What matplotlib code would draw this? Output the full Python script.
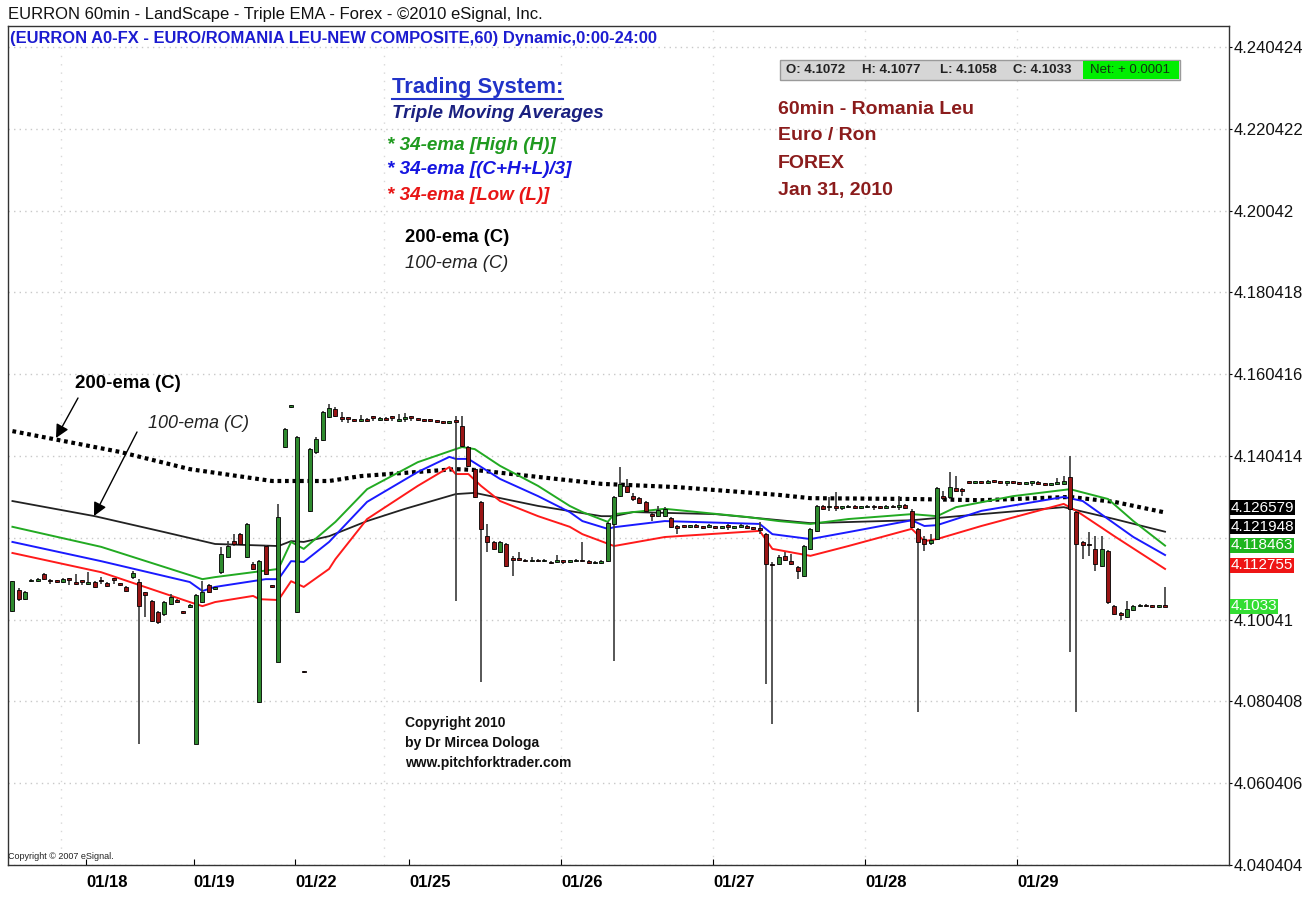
import matplotlib.pyplot as plt
import matplotlib.transforms as mtransforms
from matplotlib.patches import Rectangle, FancyArrowPatch
from matplotlib.lines import Line2D
import numpy as np

W, H = 1313, 905

# 60min OHLC bars, EUR/RON, 17-29 Jan 2010
opens = [
    4.1025, 4.1077, 4.1054, 4.1098, 4.1098, 4.1115, 4.1101, 4.1098, 4.1096, 4.1103,  # 0
    4.1096, 4.1098, 4.1091, 4.1096, 4.1101, 4.1094, 4.1103, 4.1091, 4.1084, 4.1108,  # 10
    4.1096, 4.1072, 4.1049, 4.1023, 4.1018, 4.1042, 4.1052, 4.1023, 4.1035, 4.0700,  # 20
    4.1047, 4.1089, 4.1079, 4.1120, 4.1157, 4.1196, 4.1213, 4.1157, 4.1140, 4.0803,  # 30
    4.1184, 4.1086, 4.0900, 4.1426, 4.1524, 4.1023, 4.0877, 4.1270, 4.1414, 4.1443,  # 40
    4.1499, 4.1519, 4.1497, 4.1497, 4.1492, 4.1490, 4.1494, 4.1499, 4.1492, 4.1497,  # 50
    4.1499, 4.1490, 4.1494, 4.1499, 4.1494, 4.1492, 4.1492, 4.1490, 4.1487, 4.1485,  # 60
    4.1492, 4.1477, 4.1426, 4.1372, 4.1292, 4.1208, 4.1194, 4.1169, 4.1189, 4.1152,  # 70
    4.1152, 4.1150, 4.1147, 4.1150, 4.1147, 4.1145, 4.1145, 4.1147, 4.1145, 4.1147,  # 80
    4.1150, 4.1147, 4.1142, 4.1142, 4.1147, 4.1238, 4.1306, 4.1331, 4.1306, 4.1301,  # 90
    4.1292, 4.1262, 4.1257, 4.1257, 4.1253, 4.1231, 4.1233, 4.1231, 4.1235, 4.1231,  # 100
    4.1231, 4.1231, 4.1228, 4.1235, 4.1228, 4.1231, 4.1233, 4.1228, 4.1228, 4.1213,  # 110
    4.1140, 4.1140, 4.1159, 4.1147, 4.1132, 4.1110, 4.1177, 4.1221, 4.1282, 4.1279,  # 120
    4.1282, 4.1277, 4.1279, 4.1282, 4.1277, 4.1279, 4.1282, 4.1279, 4.1277, 4.1282,  # 130
    4.1279, 4.1284, 4.1270, 4.1226, 4.1201, 4.1191, 4.1201, 4.1306, 4.1304, 4.1326,  # 140
    4.1323, 4.1341, 4.1338, 4.1341, 4.1338, 4.1343, 4.1341, 4.1338, 4.1341, 4.1338,  # 150
    4.1336, 4.1338, 4.1341, 4.1336, 4.1333, 4.1336, 4.1336, 4.1353, 4.1267, 4.1194,  # 160
    4.1189, 4.1177, 4.1135, 4.1172, 4.1037, 4.1020, 4.1010, 4.1028, 4.1037, 4.1040,  # 170
    4.1037, 4.1035, 4.1038,                                                          # 180
]
highs = [
    4.1098, 4.1082, 4.1074, 4.1103, 4.1106, 4.1118, 4.1103, 4.1101, 4.1106, 4.1106,
    4.1115, 4.1101, 4.1120, 4.1098, 4.1108, 4.1096, 4.1106, 4.1094, 4.1086, 4.1123,
    4.1103, 4.1072, 4.1052, 4.1025, 4.1049, 4.1066, 4.1054, 4.1025, 4.1042, 4.1067,
    4.1098, 4.1091, 4.1084, 4.1181, 4.1196, 4.1213, 4.1216, 4.1240, 4.1145, 4.1150,
    4.1186, 4.1089, 4.1287, 4.1472, 4.1528, 4.1452, 4.0878, 4.1423, 4.1450, 4.1514,
    4.1531, 4.1524, 4.1511, 4.1499, 4.1494, 4.1504, 4.1497, 4.1502, 4.1499, 4.1499,
    4.1502, 4.1506, 4.1509, 4.1502, 4.1497, 4.1494, 4.1494, 4.1492, 4.1490, 4.1490,
    4.1502, 4.1502, 4.1428, 4.1375, 4.1294, 4.1238, 4.1196, 4.1196, 4.1191, 4.1160,
    4.1169, 4.1152, 4.1157, 4.1152, 4.1152, 4.1147, 4.1162, 4.1150, 4.1150, 4.1152,
    4.1194, 4.1150, 4.1147, 4.1150, 4.1243, 4.1306, 4.1377, 4.1348, 4.1313, 4.1304,
    4.1294, 4.1265, 4.1282, 4.1280, 4.1255, 4.1235, 4.1235, 4.1235, 4.1238, 4.1233,
    4.1238, 4.1233, 4.1233, 4.1238, 4.1233, 4.1238, 4.1235, 4.1231, 4.1243, 4.1216,
    4.1145, 4.1162, 4.1169, 4.1164, 4.1135, 4.1186, 4.1228, 4.1284, 4.1284, 4.1304,
    4.1316, 4.1282, 4.1284, 4.1284, 4.1282, 4.1284, 4.1284, 4.1282, 4.1284, 4.1284,
    4.1306, 4.1287, 4.1275, 4.1228, 4.1208, 4.1213, 4.1328, 4.1318, 4.1365, 4.1355,
    4.1326, 4.1343, 4.1343, 4.1343, 4.1346, 4.1346, 4.1343, 4.1343, 4.1343, 4.1341,
    4.1341, 4.1343, 4.1343, 4.1338, 4.1338, 4.1350, 4.1355, 4.1404, 4.1270, 4.1196,
    4.1218, 4.1208, 4.1208, 4.1174, 4.1040, 4.1023, 4.1049, 4.1040, 4.1042, 4.1042,
    4.1040, 4.1040, 4.1084,
]
lows = [
    4.1022, 4.1050, 4.1052, 4.1096, 4.1096, 4.1101, 4.1091, 4.1094, 4.1094, 4.1089,
    4.1089, 4.1089, 4.1089, 4.1082, 4.1091, 4.1084, 4.1091, 4.1086, 4.1072, 4.1103,
    4.0700, 4.1010, 4.0998, 4.0993, 4.1013, 4.1040, 4.1044, 4.1018, 4.1032, 4.0700,
    4.1044, 4.1069, 4.1076, 4.1115, 4.1155, 4.1184, 4.1186, 4.1155, 4.1125, 4.0800,
    4.1113, 4.1081, 4.0900, 4.1424, 4.1522, 4.1020, 4.0873, 4.1268, 4.1409, 4.1440,
    4.1497, 4.1499, 4.1487, 4.1485, 4.1487, 4.1487, 4.1487, 4.1490, 4.1490, 4.1490,
    4.1490, 4.1487, 4.1487, 4.1490, 4.1490, 4.1487, 4.1487, 4.1485, 4.1482, 4.1482,
    4.1050, 4.1426, 4.1377, 4.1301, 4.0852, 4.1169, 4.1174, 4.1167, 4.1133, 4.1110,
    4.1147, 4.1145, 4.1145, 4.1145, 4.1145, 4.1140, 4.1142, 4.1140, 4.1142, 4.1145,
    4.1145, 4.1140, 4.1140, 4.1140, 4.1145, 4.0903, 4.1304, 4.1314, 4.1294, 4.1287,
    4.1267, 4.1245, 4.1255, 4.1255, 4.1228, 4.1213, 4.1228, 4.1228, 4.1228, 4.1226,
    4.1228, 4.1226, 4.1226, 4.1223, 4.1226, 4.1228, 4.1226, 4.1223, 4.1213, 4.0847,
    4.0749, 4.1137, 4.1147, 4.1137, 4.1103, 4.1108, 4.1174, 4.1218, 4.1272, 4.1270,
    4.1270, 4.1272, 4.1277, 4.1275, 4.1275, 4.1277, 4.1272, 4.1275, 4.1275, 4.1277,
    4.1272, 4.1275, 4.1228, 4.0778, 4.1172, 4.1186, 4.1199, 4.1296, 4.1299, 4.1316,
    4.1306, 4.1336, 4.1336, 4.1336, 4.1336, 4.1338, 4.1336, 4.1331, 4.1336, 4.1333,
    4.1333, 4.1331, 4.1333, 4.1331, 4.1331, 4.1333, 4.1333, 4.0925, 4.0778, 4.1152,
    4.1160, 4.1123, 4.1133, 4.1042, 4.1015, 4.1003, 4.1008, 4.1025, 4.1035, 4.1035,
    4.1032, 4.1032, 4.1035,
]
closes = [
    4.1098, 4.1054, 4.1072, 4.1101, 4.1103, 4.1103, 4.1098, 4.1096, 4.1103, 4.1101,
    4.1091, 4.1096, 4.1096, 4.1084, 4.1098, 4.1086, 4.1101, 4.1089, 4.1074, 4.1118,
    4.1037, 4.1064, 4.1001, 4.0998, 4.1047, 4.1059, 4.1047, 4.1020, 4.1040, 4.1064,
    4.1072, 4.1072, 4.1081, 4.1164, 4.1184, 4.1189, 4.1189, 4.1238, 4.1128, 4.1147,
    4.1115, 4.1084, 4.1255, 4.1470, 4.1526, 4.1450, 4.0875, 4.1421, 4.1446, 4.1511,
    4.1521, 4.1502, 4.1495, 4.1495, 4.1490, 4.1494, 4.1490, 4.1497, 4.1497, 4.1492,
    4.1497, 4.1492, 4.1499, 4.1497, 4.1492, 4.1490, 4.1490, 4.1487, 4.1485, 4.1487,
    4.1487, 4.1429, 4.1380, 4.1304, 4.1226, 4.1194, 4.1177, 4.1194, 4.1135, 4.1150,
    4.1150, 4.1147, 4.1150, 4.1147, 4.1150, 4.1142, 4.1150, 4.1145, 4.1147, 4.1150,
    4.1147, 4.1142, 4.1145, 4.1147, 4.1240, 4.1304, 4.1335, 4.1316, 4.1299, 4.1289,
    4.1270, 4.1257, 4.1272, 4.1275, 4.1231, 4.1228, 4.1231, 4.1233, 4.1231, 4.1228,
    4.1235, 4.1228, 4.1231, 4.1231, 4.1231, 4.1235, 4.1228, 4.1226, 4.1223, 4.1140,
    4.1137, 4.1157, 4.1150, 4.1140, 4.1123, 4.1184, 4.1226, 4.1282, 4.1275, 4.1282,
    4.1277, 4.1279, 4.1282, 4.1277, 4.1279, 4.1282, 4.1279, 4.1277, 4.1282, 4.1279,
    4.1284, 4.1277, 4.1231, 4.1194, 4.1189, 4.1199, 4.1326, 4.1301, 4.1328, 4.1318,
    4.1318, 4.1338, 4.1341, 4.1338, 4.1343, 4.1341, 4.1338, 4.1341, 4.1338, 4.1336,
    4.1338, 4.1341, 4.1336, 4.1333, 4.1336, 4.1341, 4.1343, 4.1275, 4.1189, 4.1186,
    4.1186, 4.1140, 4.1177, 4.1047, 4.1018, 4.1015, 4.1030, 4.1037, 4.1040, 4.1037,
    4.1035, 4.1037, 4.1036,
]

# moving averages (bar index, price)
ema200_idx = [0, 17, 28, 41, 50, 55, 70, 73, 93, 105, 121, 126, 142, 153, 167, 174, 182]
ema200_val = [4.1465, 4.1414, 4.1372, 4.1343, 4.1343, 4.1355, 4.1372, 4.1370, 4.1336,
              4.1328, 4.1309, 4.1301, 4.1299, 4.1296, 4.1304, 4.1292, 4.1266]
ema100_idx = [0, 13, 24, 32, 42, 44, 46, 50, 56, 62, 70, 73, 83, 93, 95, 98, 111, 126,
              142, 153, 166, 174, 182]
ema100_val = [4.1294, 4.1257, 4.1218, 4.1189, 4.1184, 4.1196, 4.1194, 4.1208, 4.1245,
              4.1275, 4.1311, 4.1314, 4.1282, 4.1257, 4.1257, 4.1267, 4.1262, 4.1240,
              4.1247, 4.1262, 4.1279, 4.1250, 4.1219]
emaH_idx = [0, 14, 30, 32, 42, 44, 46, 51, 56, 64, 70, 71, 73, 77, 83, 88, 90, 94, 95,
            103, 116, 121, 126, 132, 142, 146, 149, 158, 167, 173, 177, 182]
emaH_val = [4.1231, 4.1182, 4.1103, 4.1108, 4.1128, 4.1194, 4.1177, 4.1243, 4.1323,
            4.1389, 4.1421, 4.1426, 4.1421, 4.1380, 4.1331, 4.1282, 4.1267, 4.1243,
            4.1262, 4.1275, 4.1255, 4.1245, 4.1238, 4.1250, 4.1262, 4.1257, 4.1279,
            4.1306, 4.1323, 4.1299, 4.1245, 4.1185]
emaT_idx = [0, 14, 28, 30, 32, 40, 42, 44, 46, 50, 56, 64, 69, 70, 72, 77, 83, 88, 90,
            94, 95, 103, 118, 120, 126, 132, 142, 144, 146, 153, 166, 169, 177, 182]
emaT_val = [4.1194, 4.1147, 4.1096, 4.1074, 4.1084, 4.1103, 4.1103, 4.1147, 4.1145,
            4.1194, 4.1292, 4.1365, 4.1402, 4.1397, 4.1397, 4.1348, 4.1306, 4.1267,
            4.1245, 4.1226, 4.1230, 4.1245, 4.1238, 4.1213, 4.1201, 4.1218, 4.1247,
            4.1233, 4.1235, 4.1270, 4.1304, 4.1294, 4.1206, 4.1162]
emaL_idx = [0, 14, 28, 30, 32, 38, 39, 42, 44, 46, 50, 51, 56, 64, 69, 70, 72, 74, 77,
            83, 88, 90, 95, 103, 118, 120, 126, 132, 142, 144, 146, 153, 166, 168, 174, 182]
emaL_val = [4.1167, 4.1120, 4.1047, 4.1037, 4.1047, 4.1062, 4.1054, 4.1052, 4.1098,
            4.1084, 4.1128, 4.1152, 4.1250, 4.1331, 4.1377, 4.1360, 4.1360, 4.1331,
            4.1294, 4.1257, 4.1231, 4.1213, 4.1184, 4.1206, 4.1221, 4.1177, 4.1160,
            4.1184, 4.1226, 4.1196, 4.1201, 4.1233, 4.1287, 4.1270, 4.1208, 4.1128]

day_start = [12, 29, 45, 63, 87, 111, 135, 159]
day_labels = ['01/18', '01/19', '01/22', '01/25', '01/26', '01/27', '01/28', '01/29']
vgrid_idx = [8, 59, 87, 111, 135, 159]

# the 4.120412 label sits under the last-value tags and is not visible
yticks = [4.040404, 4.060406, 4.080408, 4.10041, 4.120412, 4.140414,
          4.160416, 4.180418, 4.20042, 4.220422, 4.240424]
ytick_labels = ['4.040404', '4.060406', '4.080408', '4.10041', '', '4.140414',
                '4.160416', '4.180418', '4.20042', '4.220422', '4.240424']

# last-value tags (value text, colour); tags are stacked so they don't overlap
last_labels = ['4.126579', '4.121948', '4.118463', '4.112755', '4.1033']
last_colors = ['black', 'black', '#1fb51f', '#ee1515', '#33dd33']
tag_pos = [4.1278, 4.1231, 4.1186, 4.1137, 4.1037]

ohlc_text = ['O: 4.1072', 'H: 4.1077', 'L: 4.1058', 'C: 4.1033']
net_text = 'Net: + 0.0001'

plt.rcParams['font.family'] = ['Liberation Sans', 'DejaVu Sans']

fig = plt.figure(figsize=(W / 100, H / 100), dpi=100)
ax = fig.add_axes([8 / W, 1 - 865 / H, 1221 / W, 839 / H])

o, h, l, c = map(np.array, (opens, highs, lows, closes))
x = np.arange(len(c))
up = c >= o

# moving averages
ax.plot(ema200_idx, ema200_val, color='black', lw=3, ls=(0, (0.9, 0.9)), zorder=2)
ax.plot(ema100_idx, ema100_val, color='#222222', lw=1.3, zorder=2)
ax.plot(emaH_idx, emaH_val, color='#22aa22', lw=1.4, zorder=2)
ax.plot(emaT_idx, emaT_val, color='#1a1aff', lw=1.4, zorder=2)
ax.plot(emaL_idx, emaL_val, color='#ff1a1a', lw=1.4, zorder=2)

# candles
ax.vlines(x, l, h, color='#3a3a3a', lw=1.2, zorder=3)
body_h = np.maximum(np.abs(c - o), 0.0004)
ax.bar(x, body_h, bottom=np.minimum(o, c), width=0.64,
       color=np.where(up, '#2e8b2e', '#9a1515'), edgecolor='black',
       linewidth=0.6, zorder=4)

ax.set_xlim(-0.7, 192.1)
ax.set_ylim(4.040404, 4.245556)

ax.yaxis.tick_right()
ax.set_yticks(yticks)
ax.set_yticklabels(ytick_labels, fontsize=12, color='#111111')
ax.tick_params(axis='y', direction='out', length=2, pad=1, width=0.8)
ax.set_xticks(np.array(day_start) - 0.35)
ax.set_xticklabels(day_labels, fontsize=12, fontweight='bold')
for t in ax.get_xticklabels():
    t.set_horizontalalignment('left')
ax.tick_params(axis='x', direction='in', length=4, pad=7, width=0.8)

for yv in yticks:
    ax.axhline(yv, color='#c8c8c8', lw=1, ls=(0, (1, 3)), zorder=1)
for xv in vgrid_idx:
    ax.axvline(xv - 0.35, color='#d8d8d8', lw=1, ls=(0, (1, 5)), zorder=1)

for side in ['left', 'right', 'bottom', 'top']:
    ax.spines[side].set_color('#333333')
    ax.spines[side].set_linewidth(1.0)

trans = mtransforms.blended_transform_factory(ax.transAxes, ax.transData)
for v, s, col in zip(tag_pos, last_labels, last_colors):
    ax.text(1.0015, v, s, transform=trans, ha='left', va='center', color='white',
            fontsize=11, clip_on=False, zorder=6,
            bbox=dict(boxstyle='square,pad=0.03', fc=col, ec='none'))


def ft(px, py, s, **kw):
    return fig.text(px / W, 1 - py / H, s, **kw)


def fp(px, py):
    return (px / W, 1 - py / H)


# header
ft(8, 14, 'EURRON 60min - LandScape - Triple EMA - Forex - \u00a92010 eSignal, Inc.',
   fontsize=12, va='center', color='#111111')
ft(10, 39, '(EURRON A0-FX - EURO/ROMANIA LEU-NEW COMPOSITE,60) Dynamic,0:00-24:00',
   fontsize=11.9, fontweight='bold', va='center', color='#1c1cd0')

# OHLC status box
fig.add_artist(Rectangle(fp(780, 80), 400 / W, 20 / H, transform=fig.transFigure,
                         fc='#d6d6d6', ec='#9a9a9a', lw=1))
fig.add_artist(Rectangle(fp(1083, 79), 96 / W, 18 / H, transform=fig.transFigure,
                         fc='#00ee00', ec='none'))
for px, s in zip([786, 862, 940, 1013], ohlc_text):
    ft(px, 70, s, fontsize=9.5, fontweight='bold', va='center', color='#222222')
ft(1090, 70, net_text, fontsize=9.5, va='center', color='#113311')

# legend block
ft(392, 87, 'Trading System:', fontsize=15.8, fontweight='bold', va='center',
   color='#2233c8')
fig.add_artist(Line2D([392 / W, 563 / W], [1 - 99 / H, 1 - 99 / H],
                      transform=fig.transFigure, color='#2233c8', lw=1.5))
ft(392, 114, 'Triple Moving Averages', fontsize=13.6, fontweight='bold',
   style='italic', va='center', color='#1a2080')
ft(387, 145, '* 34-ema [High (H)]', fontsize=13.6, fontweight='bold', style='italic',
   va='center', color='#1f9a1f')
ft(387, 170, '* 34-ema [(C+H+L)/3]', fontsize=13.6, fontweight='bold', style='italic',
   va='center', color='#1515e0')
ft(387, 196, '* 34-ema [Low (L)]', fontsize=13.6, fontweight='bold', style='italic',
   va='center', color='#e81515')
ft(405, 238, '200-ema (C)', fontsize=13.2, fontweight='bold', va='center', color='black')
ft(405, 263, '100-ema (C)', fontsize=13.2, style='italic', va='center', color='#222222')

# market block
for py, s in zip([109, 136, 163, 190],
                 ['60min - Romania Leu', 'Euro / Ron', 'FOREX', 'Jan 31, 2010']):
    ft(778, py, s, fontsize=14, fontweight='bold', va='center', color='#8b1c1c')

# on-chart labels with arrows
ft(75, 383, '200-ema (C)', fontsize=13.5, fontweight='bold', va='center', color='black')
ft(148, 423, '100-ema (C)', fontsize=13, style='italic', va='center', color='#222222')
arrow = dict(arrowstyle='-|>', color='black', lw=1.0, mutation_scale=20,
             shrinkA=0, shrinkB=0)
fig.add_artist(FancyArrowPatch(fp(78, 398), fp(56, 438), transform=fig.transFigure,
                               **arrow))
fig.add_artist(FancyArrowPatch(fp(137, 432), fp(94, 516), transform=fig.transFigure,
                               **arrow))

# copyright
for py, s in zip([723, 743, 763],
                 ['Copyright 2010', 'by Dr Mircea Dologa', 'www.pitchforktrader.com']):
    ft(405, py, s, fontsize=10, fontweight='bold', va='center', color='#111111')
ft(8, 856, 'Copyright \u00a9 2007 eSignal.', fontsize=6.5, va='center', color='#222222')

fig.savefig('out.png', dpi=100)
